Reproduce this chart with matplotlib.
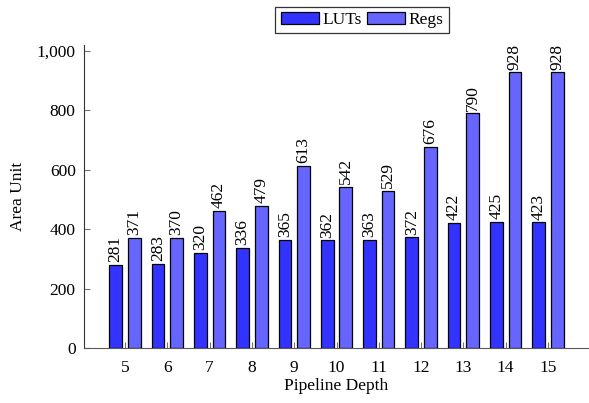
import matplotlib.pyplot as plt
import numpy as np

plt.rcParams['font.family'] = ['Liberation Serif', 'DejaVu Serif']

depth = [5, 6, 7, 8, 9, 10, 11, 12, 13, 14, 15]
luts = [281, 283, 320, 336, 365, 362, 363, 372, 422, 425, 423]
regs = [371, 370, 462, 479, 613, 542, 529, 676, 790, 928, 928]

x = np.array(depth, dtype=float)
w = 0.3
off = 0.22
fs = 12.5

fig = plt.figure(figsize=(5.89, 4.03), dpi=100)
ax = fig.add_axes([84 / 589, 55 / 403, 505 / 589, 303 / 403])

b1 = ax.bar(x - off, luts, w, color='#3333ff', edgecolor='black', linewidth=0.9, label='LUTs')
b2 = ax.bar(x + off, regs, w, color='#6666ff', edgecolor='black', linewidth=0.9, label='Regs')

# value labels, rotated like pgfplots nodes near coords
for bars, vals in ((b1, luts), (b2, regs)):
    for b, v in zip(bars, vals):
        ax.annotate(str(v), (b.get_x() + b.get_width() / 2, v), xytext=(0, 2),
                    textcoords='offset points', rotation=90, ha='center', va='bottom',
                    fontsize=fs)

ax.set_xlim(4.03, 15.97)
ax.set_ylim(0, 1020)
ax.set_xticks(depth)
ax.set_yticks([0, 200, 400, 600, 800, 1000])
ax.set_yticklabels(['0', '200', '400', '600', '800', '1,000'])
ax.tick_params(direction='in', length=4, width=0.8, color='0.45', labelsize=fs)
ax.tick_params(axis='x', pad=9)
ax.tick_params(axis='y', pad=6)
ax.spines['top'].set_visible(False)
ax.spines['right'].set_visible(False)
ax.spines['left'].set_color('0.2')
ax.spines['bottom'].set_color('0.35')
ax.set_xlabel('Pipeline Depth', fontsize=fs, labelpad=1)
ax.set_ylabel('Area Unit', fontsize=fs, labelpad=8)

leg = fig.legend(handles=[b1, b2], loc='center', bbox_to_anchor=(362 / 589, 1 - 20 / 403),
                 ncol=2, fontsize=fs, frameon=True, fancybox=False, edgecolor='black',
                 handlelength=2.2, handleheight=0.7, handletextpad=0.2, columnspacing=0.3,
                 borderpad=0.3, borderaxespad=0)
leg.get_frame().set_linewidth(0.9)

fig.savefig('out.png', dpi=100)
